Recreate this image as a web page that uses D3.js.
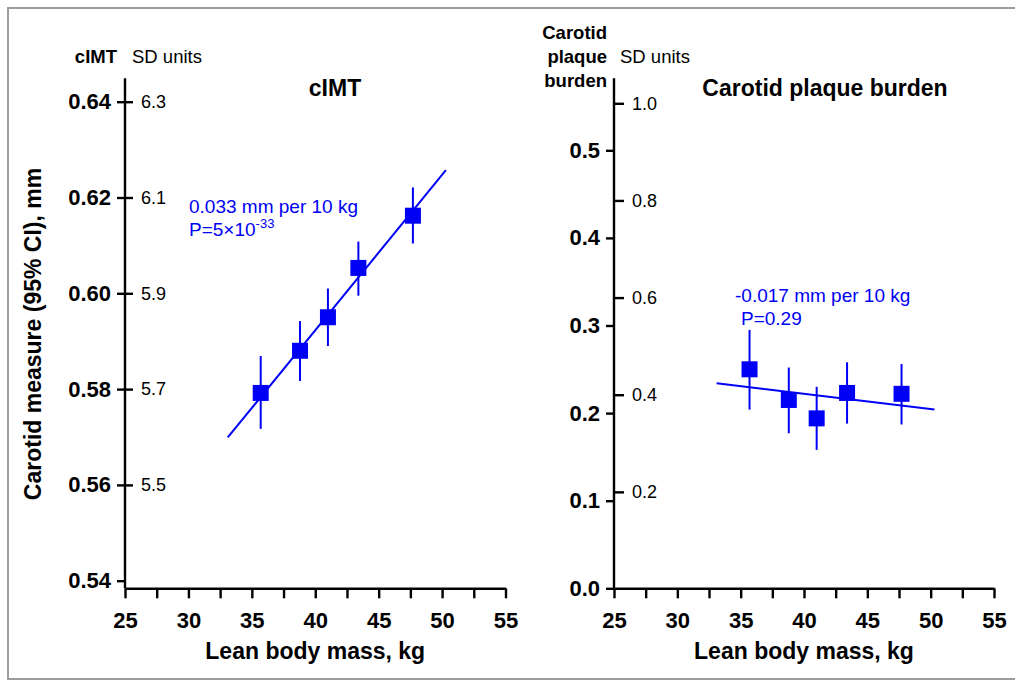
<!DOCTYPE html>
<html>
<head>
<meta charset="utf-8">
<script src="https://cdn.jsdelivr.net/npm/d3@7"></script>
<style>
  body { margin: 0; background: #fff; }
  svg { font-family: "Liberation Sans", Arial, sans-serif; }
</style>
</head>
<body>
<div id="chart"></div>
<script>
// data
var xTicks = [25, 27.5, 30, 32.5, 35, 37.5, 40, 42.5, 45, 47.5, 50, 52.5, 55];
var leanMass = [35.7, 38.8, 41.0, 43.4, 47.7];

var cimtMean = [0.5792, 0.5880, 0.5950, 0.6053, 0.6162];
var cimtLow = [0.5717, 0.5817, 0.5890, 0.5995, 0.6104];
var cimtHigh = [0.5869, 0.5942, 0.6010, 0.6108, 0.6221];
var cimtFitX = [33.1, 50.3];
var cimtFitY = [0.5699, 0.6257];
var cimtTicks = [0.54, 0.56, 0.58, 0.60, 0.62, 0.64];
var cimtSdTicks = [5.5, 5.7, 5.9, 6.1, 6.3];

var plaqueMean = [0.250, 0.215, 0.194, 0.223, 0.222];
var plaqueLow = [0.204, 0.177, 0.158, 0.188, 0.187];
var plaqueHigh = [0.295, 0.252, 0.230, 0.258, 0.256];
var plaqueFitX = [33.1, 50.3];
var plaqueFitY = [0.234, 0.204];
var plaqueTicks = [0.0, 0.1, 0.2, 0.3, 0.4, 0.5];
var plaqueSdTicks = [0.2, 0.4, 0.6, 0.8, 1.0];

var svgWidth = 1015;
var svgHeight = 681;
var blue = "#0000f5";
var axisBottomY = 588.3;
var axisTopY = 78.3;

var svg = d3.select("#chart")
    .append("svg")
    .attr("width", svgWidth)
    .attr("height", svgHeight);

svg.append("rect")
    .attr("x", 8).attr("y", 8)
    .attr("width", 1030).attr("height", 671)
    .attr("fill", "none")
    .attr("stroke", "#9c9c9c")
    .attr("stroke-width", 2);

function drawPanel(p) {
    var g = svg.append("g");

    // x axis
    var xAxis = d3.axisBottom(p.x)
        .tickValues(xTicks)
        .tickSize(10)
        .tickSizeOuter(0)
        .tickPadding(14)
        .tickFormat(d => Number.isInteger(d) ? d : "");
    var gx = g.append("g")
        .attr("transform", `translate(0, ${axisBottomY})`)
        .call(xAxis);
    gx.selectAll("path, line").attr("stroke-width", 2.4).attr("stroke", "#000");
    gx.selectAll("text")
        .attr("font-size", "22px")
        .attr("font-weight", "bold")
        .attr("font-family", "Liberation Sans, Arial, sans-serif")
        .attr("fill", "#000");

    // left (mm) axis
    var x0 = p.x.range()[0];
    g.append("line")
        .attr("x1", x0).attr("x2", x0)
        .attr("y1", axisTopY).attr("y2", axisBottomY)
        .attr("stroke", "#000").attr("stroke-width", 2.4);

    var gy = g.append("g")
        .attr("transform", `translate(${x0}, 0)`)
        .call(d3.axisLeft(p.y).tickValues(p.yTicks).tickSize(8).tickPadding(6).tickFormat(p.yFormat));
    gy.select(".domain").remove();
    gy.selectAll("line").attr("stroke-width", 2.4);
    gy.selectAll("text")
        .attr("font-size", "22px")
        .attr("font-weight", "bold")
        .attr("font-family", "Liberation Sans, Arial, sans-serif");

    // right (SD units) ticks
    var gs = g.append("g")
        .attr("transform", `translate(${x0}, 0)`)
        .call(d3.axisRight(p.ySd).tickValues(p.sdTicks).tickSize(p.sdTickSize).tickPadding(8).tickFormat(d3.format(".1f")));
    gs.select(".domain").remove();
    gs.selectAll("line").attr("stroke-width", 2.4);
    gs.selectAll("text")
        .attr("font-size", "18px")
        .attr("font-family", "Liberation Sans, Arial, sans-serif");

    // fitted line
    g.append("line")
        .attr("x1", p.x(p.fitX[0])).attr("y1", p.y(p.fitY[0]))
        .attr("x2", p.x(p.fitX[1])).attr("y2", p.y(p.fitY[1]))
        .attr("stroke", blue).attr("stroke-width", 2);

    // error bars
    g.selectAll(".ci")
        .data(leanMass)
        .enter()
        .append("line")
        .attr("x1", d => p.x(d)).attr("x2", d => p.x(d))
        .attr("y1", (d, i) => p.y(p.low[i]))
        .attr("y2", (d, i) => p.y(p.high[i]))
        .attr("stroke", blue).attr("stroke-width", 2);

    // squares
    var s = 16;
    g.selectAll(".pt")
        .data(leanMass)
        .enter()
        .append("rect")
        .attr("x", d => p.x(d) - s / 2)
        .attr("y", (d, i) => p.y(p.mean[i]) - s / 2)
        .attr("width", s).attr("height", s)
        .attr("fill", blue);

    // x label
    g.append("text")
        .attr("x", (p.x.range()[0] + p.x.range()[1]) / 2)
        .attr("y", 659)
        .attr("text-anchor", "middle")
        .attr("font-size", "23px")
        .attr("font-weight", "bold")
        .text("Lean body mass, kg");

    // title
    g.append("text")
        .attr("x", p.titleX)
        .attr("y", 96)
        .attr("text-anchor", "middle")
        .attr("font-size", "23px")
        .attr("font-weight", "bold")
        .text(p.title);

    return g;
}

// left panel: cIMT
var xL = d3.scaleLinear().domain([25, 55]).range([125, 505.5]);
var yL = d3.scaleLinear().domain([0.54, 0.64]).range([580.7, 101.7]);
var ySdL = d3.scaleLinear().domain([5.3, 6.3]).range([580.7, 101.7]);

var left = drawPanel({
    x: xL, y: yL, ySd: ySdL,
    yTicks: cimtTicks, yFormat: d3.format(".2f"),
    sdTicks: cimtSdTicks, sdTickSize: 8,
    mean: cimtMean, low: cimtLow, high: cimtHigh,
    fitX: cimtFitX, fitY: cimtFitY,
    title: "cIMT", titleX: 335
});

left.append("text")
    .attr("x", 117).attr("y", 63)
    .attr("text-anchor", "end")
    .attr("font-size", "18.5px")
    .attr("font-weight", "bold")
    .text("cIMT");
left.append("text")
    .attr("x", 132).attr("y", 63)
    .attr("font-size", "18.5px")
    .text("SD units");

left.append("text")
    .attr("x", 189).attr("y", 213)
    .attr("font-size", "19px")
    .attr("fill", blue)
    .text("0.033 mm per 10 kg");
var pL = left.append("text")
    .attr("x", 189).attr("y", 236)
    .attr("font-size", "19px")
    .attr("fill", blue);
pL.append("tspan").text("P=5×10");
pL.append("tspan").attr("dy", -8).attr("font-size", "13px").text("-33");

left.append("text")
    .attr("transform", "translate(41, 334) rotate(-90)")
    .attr("text-anchor", "middle")
    .attr("font-size", "23px")
    .attr("font-weight", "bold")
    .text("Carotid measure (95% CI), mm");

// right panel: plaque burden
var xR = d3.scaleLinear().domain([25, 55]).range([614, 994]);
var yR = d3.scaleLinear().domain([0, 0.5]).range([588.3, 150.3]);
var ySdR = d3.scaleLinear().domain([0, 1.0]).range([589, 103.3]);

var right = drawPanel({
    x: xR, y: yR, ySd: ySdR,
    yTicks: plaqueTicks, yFormat: d3.format(".1f"),
    sdTicks: plaqueSdTicks, sdTickSize: 10,
    mean: plaqueMean, low: plaqueLow, high: plaqueHigh,
    fitX: plaqueFitX, fitY: plaqueFitY,
    title: "Carotid plaque burden", titleX: 825
});

var hdr = ["Carotid", "plaque", "burden"];
right.selectAll(".hdr")
    .data(hdr)
    .enter()
    .append("text")
    .attr("x", 607)
    .attr("y", (d, i) => 39 + i * 24)
    .attr("text-anchor", "end")
    .attr("font-size", "18.5px")
    .attr("font-weight", "bold")
    .text(d => d);
right.append("text")
    .attr("x", 620).attr("y", 63)
    .attr("font-size", "18.5px")
    .text("SD units");

right.append("text")
    .attr("x", 735).attr("y", 302)
    .attr("font-size", "19px")
    .attr("fill", blue)
    .text("-0.017 mm per 10 kg");
right.append("text")
    .attr("x", 741).attr("y", 325)
    .attr("font-size", "19px")
    .attr("fill", blue)
    .text("P=0.29");
</script>
</body>
</html>
